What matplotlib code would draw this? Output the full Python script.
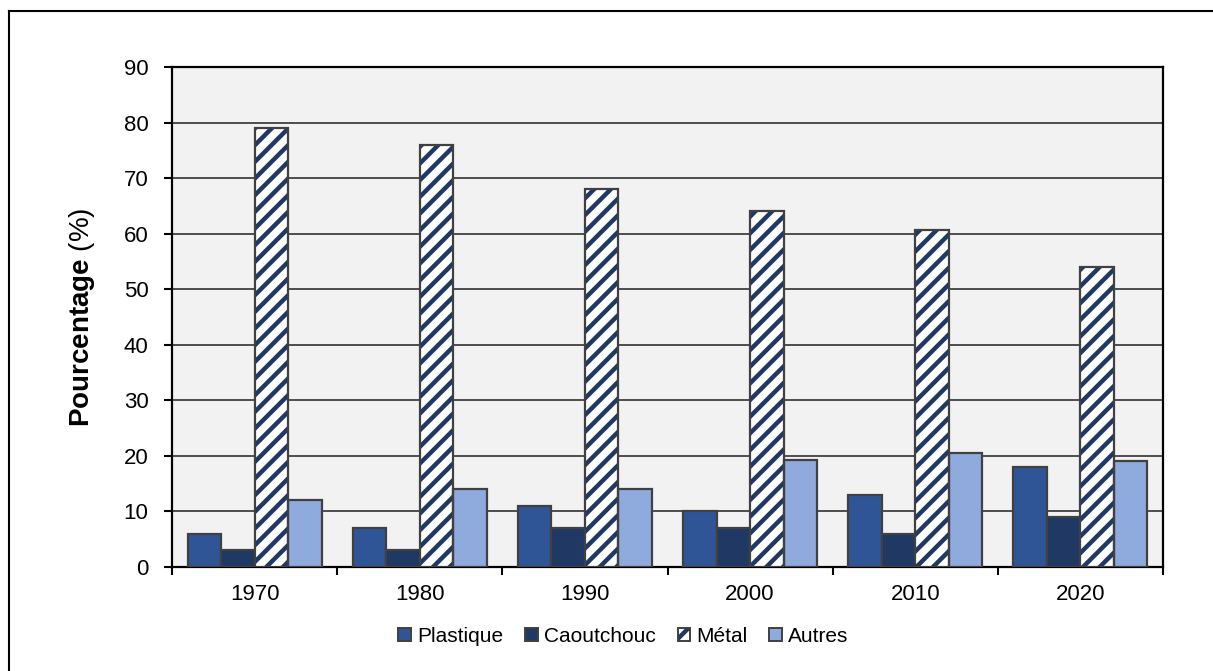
import numpy as np
import matplotlib
matplotlib.use("Agg")
import matplotlib.pyplot as plt
from matplotlib.lines import Line2D
from matplotlib.patches import Patch
from matplotlib.legend_handler import HandlerTuple

plt.rcParams['font.family'] = ['Liberation Sans', 'DejaVu Sans']
plt.rcParams['mathtext.fontset'] = 'custom'
plt.rcParams['mathtext.rm'] = 'Liberation Sans'
plt.rcParams['mathtext.bf'] = 'Liberation Sans:bold'
plt.rcParams['hatch.linewidth'] = 3.2

# données (%)
annees = ['1970', '1980', '1990', '2000', '2010', '2020']
plastique = [6, 7, 11, 10, 13, 18]
caoutchouc = [3, 3, 7, 7, 6, 9]
metal = [79, 76, 68, 64, 60.6, 54]
autres = [12, 14, 14, 19.2, 20.6, 19.1]

series = [
    ('Plastique', plastique, '#2F5597', None),
    ('Caoutchouc', caoutchouc, '#203864', None),
    ('Métal', metal, 'white', '//'),
    ('Autres', autres, '#8FAADC', None),
]
bord = '#404040'
rayure = '#203864'

fig = plt.figure(figsize=(12.13, 6.71), dpi=100)
ax = fig.add_axes([0.1418, 0.155, 0.8170, 0.7451])
ax.set_facecolor('#F2F2F2')

x = np.arange(len(annees))
w = 0.203
poignees = []
for i, (nom, vals, coul, hachure) in enumerate(series):
    pos = x + (i - 1.5) * w
    if hachure:
        # hachures bleu foncé puis contour gris par-dessus
        ax.bar(pos, vals, w, color=coul, edgecolor=rayure, hatch=hachure,
               linewidth=0, zorder=3)
        ax.bar(pos, vals, w, fill=False, edgecolor=bord, linewidth=1.6, zorder=4)
        poignees.append((Patch(facecolor=coul, edgecolor=rayure, hatch=hachure, linewidth=0),
                         Patch(fill=False, edgecolor=bord, linewidth=1.4)))
    else:
        ax.bar(pos, vals, w, color=coul, edgecolor=bord, linewidth=1.6, zorder=3)
        poignees.append(Patch(facecolor=coul, edgecolor=bord, linewidth=1.4))

ax.set_ylim(0, 90)
ax.set_xlim(-0.5, len(annees) - 0.5)
ax.set_yticks(np.arange(0, 91, 10))
ax.yaxis.grid(True, color='#404040', linewidth=1.3, zorder=1)
ax.set_axisbelow(True)

ax.set_xticks(x)
ax.set_xticklabels(annees)
ax.set_xticks(np.arange(-0.5, len(annees)), minor=True)
ax.tick_params(axis='x', which='major', length=0, pad=12, labelsize=16)
ax.tick_params(axis='x', which='minor', length=6, width=1.5, direction='out')
ax.tick_params(axis='y', length=6, width=1.5, pad=11, labelsize=16)

for s in ax.spines.values():
    s.set_linewidth(1.6)
    s.set_color('black')

ax.set_ylabel(r'$\mathbf{Pourcentage}$ (%)', fontsize=20)
ax.yaxis.set_label_coords(-0.076, 0.5)

ax.legend(poignees, [s[0] for s in series], handler_map={tuple: HandlerTuple(ndivide=1, pad=0)},
          loc='center', bbox_to_anchor=(0.514, 0.052), bbox_transform=fig.transFigure,
          ncol=4, frameon=False, fontsize=15, handlelength=0.6, handleheight=0.6,
          handletextpad=0.3, columnspacing=1.05)

# cadre extérieur
fig.add_artist(Line2D([0.0074, 0.0074], [-0.1, 0.9836], color='black', linewidth=1.5,
                      transform=fig.transFigure))
fig.add_artist(Line2D([0.0074, 1.1], [0.9836, 0.9836], color='black', linewidth=1.5,
                      transform=fig.transFigure))

fig.savefig('out.png', dpi=100)
